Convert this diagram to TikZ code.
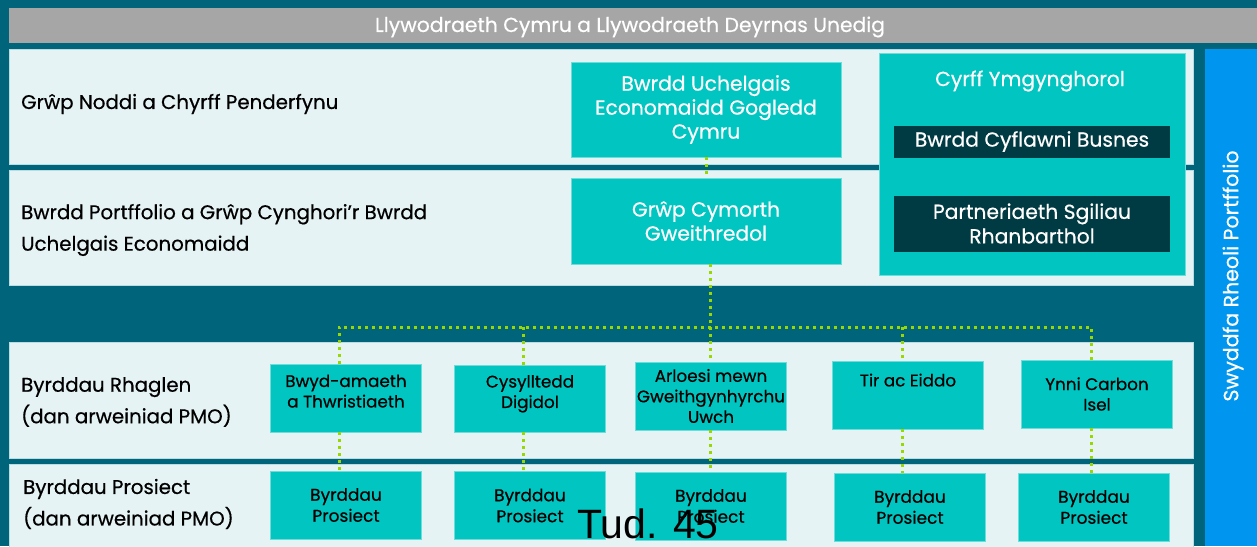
\documentclass[tikz,border=0pt]{standalone}
\usepackage{fontspec}
\setmainfont{Poppins}[FakeBold=0.5]
\definecolor{bgdark}{HTML}{00657A}
\definecolor{panel}{HTML}{E5F3F4}
\definecolor{panelline}{HTML}{B9DDE2}
\definecolor{tealbox}{HTML}{00C5C1}
\definecolor{tealline}{HTML}{6FDCD9}
\definecolor{darkbox}{HTML}{003A42}
\definecolor{bluebar}{HTML}{0096F0}
\definecolor{graybar}{HTML}{A6A6A6}
\definecolor{dotgreen}{HTML}{9AD600}
\begin{document}
\begin{tikzpicture}[x=1pt,y=-1pt,
  panelbox/.style={fill=panel,draw=panelline,line width=0.8pt},
  teal/.style={rectangle,fill=tealbox,draw=tealline,line width=0.8pt,text=white,align=center,inner sep=0pt,font=\fontsize{20.3}{24}\selectfont},
  progbox/.style={rectangle,fill=tealbox,draw=tealline,line width=0.8pt,text=black,align=center,inner sep=0pt,minimum width=151pt,minimum height=68pt,font=\fontsize{16.8}{20.5}\selectfont},
  projbox/.style={progbox,font=\fontsize{17}{21}\selectfont},
  darkb/.style={rectangle,fill=darkbox,text=white,align=center,inner sep=0pt,minimum width=276pt,font=\fontsize{20.3}{24.5}\selectfont},
  lbl/.style={anchor=west,align=left,text=black,inner sep=0pt,font=\fontsize{19.8}{31.5}\selectfont},
  dotline/.style={draw=dotgreen,line width=3pt,dash pattern=on 3pt off 4pt}]
\useasboundingbox (0,0) rectangle (1257,546);
\fill[bgdark] (0,0) rectangle (1257,546);
% gray top bar
\fill[graybar] (9,8) rectangle (1257,43);
\node[text=white,font=\fontsize{20.3}{24}\selectfont] (gov) at (630,27) {Llywodraeth Cymru a Llywodraeth Deyrnas Unedig};
% panels
\path[panelbox] (9,49) rectangle (1193,164);
\path[panelbox] (9,170) rectangle (1193,285);
\path[panelbox] (9,342) rectangle (1193,458);
\path[panelbox] (9,464) rectangle (1193,552);
% blue bar
\fill[bluebar] (1205,49) rectangle (1257,546);
\node[rotate=90,text=white,font=\fontsize{20.5}{24}\selectfont] (pmo) at (1233,276) {Swyddfa Rheoli Portffolio};
% left labels
\node[lbl] (l1) at (21,104) {Grŵp Noddi a Chyrff Penderfynu};
\node[lbl] (l2) at (21,230) {Bwrdd Portffolio a Grŵp Cynghori'r Bwrdd\\Uchelgais Economaidd};
\node[lbl] (l3) at (21,402) {Byrddau Rhaglen\\(dan arweiniad PMO)};
\node[lbl] (l4) at (23,504) {Byrddau Prosiect\\(dan arweiniad PMO)};
% top boxes
\node[teal,minimum width=270pt,minimum height=95pt] (bu) at (706,109.5) {Bwrdd Uchelgais\\Economaidd Gogledd\\Cymru};
\node[teal,minimum width=270pt,minimum height=86pt] (gc) at (706,221) {Grŵp Cymorth\\Gweithredol};
% advisory
\node[rectangle,fill=tealbox,draw=tealline,line width=0.8pt,minimum width=306pt,minimum height=222pt,inner sep=0pt] (cy) at (1032,164) {};
\node[text=white,font=\fontsize{20.3}{24}\selectfont] (cyt) at (1030,81) {Cyrff Ymgynghorol};
\node[darkb,minimum height=32pt] (bc) at (1032,141.5) {Bwrdd Cyflawni Busnes};
\node[darkb,minimum height=56pt] (ps) at (1032,223.5) {Partneriaeth Sgiliau\\Rhanbarthol};
% programme boxes
\node[progbox,text depth=14pt] (p1) at (346,398) {Bwyd-amaeth\\a Thwristiaeth};
\node[progbox,text depth=14pt,minimum height=67pt] (p2) at (530,398.5) {Cysylltedd\\Digidol};
\node[progbox] (p3) at (711,396) {Arloesi mewn\\Gweithgynhyrchu\\Uwch};
\node[progbox,text depth=30pt] (p4) at (908,395) {Tir ac Eiddo};
\node[progbox] (p5) at (1097,394) {Ynni Carbon\\Isel};
% project boxes
\node[projbox] (q1) at (346,505) {Byrddau\\Prosiect};
\node[projbox] (q2) at (530,505.5) {Byrddau\\Prosiect};
\node[projbox] (q3) at (711,506) {Byrddau\\Prosiect};
\node[projbox] (q4) at (910,507) {Byrddau\\Prosiect};
\node[projbox] (q5) at (1094,507) {Byrddau\\Prosiect};
% connector coordinates
\coordinate (hub) at (710,327);
\coordinate (x1) at (339,327);
\coordinate (x2) at (523,327);
\coordinate (x3) at (710,327);
\coordinate (x4) at (902,327);
\coordinate (x5) at (1091,327);
\draw[dotline] (bu.south) -- (gc.north);
\draw[dotline] (gc.south -| hub) -- (hub);
\draw[dotline] (x1 |- p1.north) -- (x1) -- (x5) -- (x5 |- p5.north);
\draw[dotline] (x2) -- (x2 |- p2.north);
\draw[dotline] (x3) -- (x3 |- p3.north);
\draw[dotline] (x4) -- (x4 |- p4.north);
\draw[dotline] (x1 |- p1.south) -- (x1 |- q1.north);
\draw[dotline] (x2 |- p2.south) -- (x2 |- q2.north);
\draw[dotline] (x3 |- p3.south) -- (x3 |- q3.north);
\draw[dotline] (x4 |- p4.south) -- (x4 |- q4.north);
\draw[dotline] (x5 |- p5.south) -- (x5 |- q5.north);
% page number overlay
\node[text=black,font=\fontspec{Liberation Sans}\fontsize{41}{44}\selectfont] (tud) at (648,524) {Tud. 45};
\end{tikzpicture}
\end{document}
